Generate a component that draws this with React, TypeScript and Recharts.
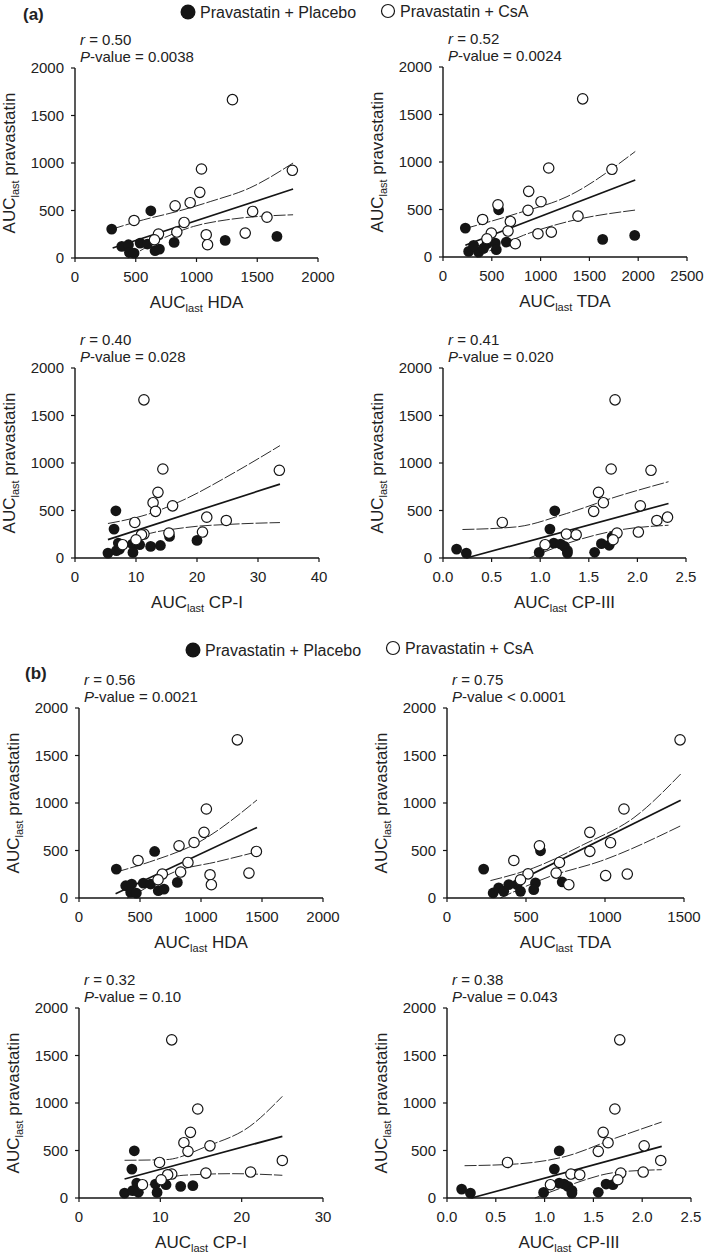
import React from "react";
import { ScatterChart, Scatter, XAxis, YAxis } from "recharts";

const FONT = '"Liberation Sans", Arial, Helvetica, sans-serif';

// ---------- (a) panel 1: AUClast HDA
const a1PlaceboX = [302, 624, 385, 440, 448, 486, 536, 596, 659, 695, 816, 1236, 1662];
const a1PlaceboY = [304, 497, 122, 140, 59, 52, 157, 147, 77, 94, 164, 185, 227];
const a1CsaX = [1296, 1041, 1789, 1027, 948, 824, 1462, 1580, 486, 898, 838, 1401, 687, 1080, 654, 1091];
const a1CsaY = [1667, 937, 923, 691, 582, 549, 490, 430, 395, 374, 273, 262, 252, 245, 192, 140];
const a1FitX = [310, 1795];
const a1FitY = [105, 726];
const a1UpX = [305, 563, 838, 1113, 1438, 1795];
const a1UpY = [304, 402, 489, 594, 737, 1000];
const a1LoX = [435, 495, 700, 975, 1250, 1795];
const a1LoY = [0, 45, 192, 332, 402, 455];

// ---------- (a) panel 2: AUClast TDA
const a2PlaceboX = [229, 570, 1636, 1964, 649, 263, 365, 314, 451, 536, 546, 417];
const a2PlaceboY = [304, 497, 185, 227, 157, 59, 52, 122, 140, 147, 77, 94];
const a2CsaX = [1431, 1083, 1731, 878, 1004, 563, 871, 1383, 406, 690, 666, 1110, 495, 973, 450, 741];
const a2CsaY = [1665, 937, 923, 691, 582, 549, 491, 430, 395, 374, 273, 262, 252, 245, 192, 140];
const a2FitX = [229, 1970];
const a2FitY = [123, 811];
const a2UpX = [229, 758, 1270, 1970];
const a2UpY = [300, 458, 635, 1111];
const a2LoX = [348, 417, 826, 1270, 1970];
const a2LoY = [0, 35, 229, 370, 494];

// ---------- (a) panel 3: AUClast CP-I
const a3PlaceboX = [6.7, 6.4, 7.1, 15.5, 20.0, 9.4, 10.6, 12.4, 14.0, 9.5, 5.4, 6.8, 7.3];
const a3PlaceboY = [497, 304, 157, 227, 185, 147, 140, 122, 132, 59, 52, 77, 94];
const a3CsaX = [11.3, 14.4, 33.5, 13.6, 12.8, 16.0, 13.2, 21.6, 24.8, 9.8, 20.9, 15.4, 11.3, 10.9, 10.0, 7.8];
const a3CsaY = [1665, 937, 923, 691, 582, 549, 491, 430, 395, 374, 273, 262, 252, 245, 192, 140];
const a3FitX = [5.4, 33.6];
const a3FitY = [194, 778];
const a3UpX = [5.4, 12.3, 17.7, 25.9, 33.6];
const a3UpY = [363, 468, 609, 891, 1183];
const a3LoX = [5.4, 10.6, 17.7, 25.9, 33.6];
const a3LoY = [25, 222, 317, 356, 373];

// ---------- (a) panel 4: AUClast CP-III
const a4PlaceboX = [1.15, 1.10, 0.14, 0.24, 0.99, 1.14, 1.21, 1.25, 1.28, 1.28, 1.56, 1.63, 1.71, 1.74];
const a4PlaceboY = [497, 304, 94, 52, 59, 157, 147, 122, 77, 52, 60, 151, 134, 222];
const a4CsaX = [1.77, 1.73, 2.14, 1.60, 1.65, 2.03, 1.55, 2.31, 2.20, 0.61, 2.01, 1.79, 1.27, 1.37, 1.75, 1.05];
const a4CsaY = [1665, 937, 923, 691, 582, 549, 491, 430, 395, 374, 273, 262, 252, 245, 192, 140];
const a4FitX = [0.24, 2.32];
const a4FitY = [0, 574];
const a4UpX = [0.2, 0.75, 1.27, 1.78, 2.32];
const a4UpY = [300, 327, 468, 644, 803];
const a4LoX = [0.89, 1.27, 1.78, 2.32];
const a4LoY = [0, 151, 289, 345];

// ---------- (b) panel 1: AUClast HDA
const b1PlaceboX = [306, 620, 383, 432, 424, 470, 527, 587, 650, 697, 806];
const b1PlaceboY = [304, 490, 129, 147, 59, 52, 157, 147, 77, 94, 164];
const b1CsaX = [1298, 1044, 1025, 943, 820, 1454, 484, 893, 833, 1393, 683, 1074, 648, 1085];
const b1CsaY = [1665, 937, 691, 584, 549, 490, 395, 374, 273, 262, 252, 245, 192, 140];
const b1FitX = [300, 1459];
const b1FitY = [45, 743];
const b1UpX = [310, 579, 989, 1459];
const b1UpY = [275, 380, 592, 1032];
const b1LoX = [395, 451, 792, 1126, 1459];
const b1LoY = [0, 35, 280, 380, 486];

// ---------- (b) panel 2: AUClast TDA
const b2PlaceboX = [232, 592, 729, 560, 444, 292, 327, 359, 391, 465, 549];
const b2PlaceboY = [304, 497, 169, 159, 141, 53, 106, 70, 141, 70, 88];
const b2CsaX = [1475, 1120, 904, 1035, 585, 904, 423, 712, 513, 691, 1141, 1004, 465, 771];
const b2CsaY = [1665, 937, 691, 582, 549, 491, 395, 374, 254, 262, 252, 236, 192, 140];
const b2FitX = [275, 1479];
const b2FitY = [35, 1030];
const b2UpX = [275, 549, 866, 1183, 1479];
const b2UpY = [183, 317, 564, 846, 1305];
const b2LoX = [338, 655, 972, 1479];
const b2LoY = [0, 229, 388, 760];

// ---------- (b) panel 3: AUClast CP-I
const b3PlaceboX = [6.8, 6.5, 7.1, 9.4, 10.7, 12.5, 14.0, 9.6, 5.6, 6.6, 7.3];
const b3PlaceboY = [497, 304, 157, 147, 140, 122, 130, 59, 52, 77, 60];
const b3CsaX = [11.4, 14.6, 13.7, 12.9, 16.1, 13.4, 25.0, 9.9, 21.1, 15.6, 11.4, 10.9, 10.1, 7.8];
const b3CsaY = [1665, 937, 691, 582, 549, 491, 395, 374, 273, 262, 252, 245, 192, 140];
const b3FitX = [5.6, 25];
const b3FitY = [200, 649];
const b3UpX = [5.6, 10.7, 15.7, 21, 25];
const b3UpY = [397, 404, 544, 754, 1070];
const b3LoX = [5.6, 8.7, 12.8, 18.9, 25];
const b3LoY = [5, 140, 239, 256, 239];

// ---------- (b) panel 4: AUClast CP-III
const b4PlaceboX = [1.15, 1.10, 0.15, 0.24, 0.99, 1.15, 1.20, 1.24, 1.28, 1.28, 1.55, 1.63, 1.70];
const b4PlaceboY = [497, 304, 94, 52, 59, 157, 147, 122, 77, 52, 60, 147, 140];
const b4CsaX = [1.77, 1.72, 1.60, 1.65, 2.02, 1.55, 2.19, 0.62, 2.01, 1.78, 1.27, 1.36, 1.75, 1.06];
const b4CsaY = [1665, 937, 691, 582, 549, 491, 395, 374, 273, 262, 252, 245, 192, 140];
const b4FitX = [0.25, 2.2];
const b4FitY = [0, 544];
const b4UpX = [0.18, 0.71, 1.22, 1.73, 2.2];
const b4UpY = [340, 358, 439, 632, 800];
const b4LoX = [0.9, 1.22, 1.73, 2.2];
const b4LoY = [0, 123, 270, 298];

// ---------- labels
const xNames = ["HDA", "TDA", "CP-I", "CP-III", "HDA", "TDA", "CP-I", "CP-III"];
const rValues = ["0.50", "0.52", "0.40", "0.41", "0.56", "0.75", "0.32", "0.38"];
const pValues = ["= 0.0038", "= 0.0024", "= 0.028", "= 0.020", "= 0.0021", "< 0.0001", "= 0.10", "= 0.043"];
const yTicks = [0, 500, 1000, 1500, 2000];
const hdaTicks = [0, 500, 1000, 1500, 2000];
const tdaTicksA = [0, 500, 1000, 1500, 2000, 2500];
const tdaTicksB = [0, 500, 1000, 1500];
const cp1TicksA = [0, 10, 20, 30, 40];
const cp1TicksB = [0, 10, 20, 30];
const cp3Ticks = [0, 0.5, 1.0, 1.5, 2.0, 2.5];

type Pt = { x: number; y: number };
const zip = (xs: number[], ys: number[]): Pt[] => xs.map((x, i) => ({ x, y: ys[i] }));

interface PanelCfg {
  left: number;
  top: number;
  w: number;
  xTicks: number[];
  dec: number;
  placebo: Pt[];
  csa: Pt[];
  fit: Pt[];
  upper: Pt[];
  lower: Pt[];
}

const panels: PanelCfg[] = [
  { left: 75, top: 68, w: 243, xTicks: hdaTicks, dec: 0, placebo: zip(a1PlaceboX, a1PlaceboY), csa: zip(a1CsaX, a1CsaY), fit: zip(a1FitX, a1FitY), upper: zip(a1UpX, a1UpY), lower: zip(a1LoX, a1LoY) },
  { left: 443, top: 67, w: 244, xTicks: tdaTicksA, dec: 0, placebo: zip(a2PlaceboX, a2PlaceboY), csa: zip(a2CsaX, a2CsaY), fit: zip(a2FitX, a2FitY), upper: zip(a2UpX, a2UpY), lower: zip(a2LoX, a2LoY) },
  { left: 75, top: 368, w: 244, xTicks: cp1TicksA, dec: 0, placebo: zip(a3PlaceboX, a3PlaceboY), csa: zip(a3CsaX, a3CsaY), fit: zip(a3FitX, a3FitY), upper: zip(a3UpX, a3UpY), lower: zip(a3LoX, a3LoY) },
  { left: 443, top: 368, w: 243, xTicks: cp3Ticks, dec: 1, placebo: zip(a4PlaceboX, a4PlaceboY), csa: zip(a4CsaX, a4CsaY), fit: zip(a4FitX, a4FitY), upper: zip(a4UpX, a4UpY), lower: zip(a4LoX, a4LoY) },
  { left: 79, top: 708, w: 244, xTicks: hdaTicks, dec: 0, placebo: zip(b1PlaceboX, b1PlaceboY), csa: zip(b1CsaX, b1CsaY), fit: zip(b1FitX, b1FitY), upper: zip(b1UpX, b1UpY), lower: zip(b1LoX, b1LoY) },
  { left: 447, top: 708, w: 237, xTicks: tdaTicksB, dec: 0, placebo: zip(b2PlaceboX, b2PlaceboY), csa: zip(b2CsaX, b2CsaY), fit: zip(b2FitX, b2FitY), upper: zip(b2UpX, b2UpY), lower: zip(b2LoX, b2LoY) },
  { left: 79, top: 1008, w: 244, xTicks: cp1TicksB, dec: 0, placebo: zip(b3PlaceboX, b3PlaceboY), csa: zip(b3CsaX, b3CsaY), fit: zip(b3FitX, b3FitY), upper: zip(b3UpX, b3UpY), lower: zip(b3LoX, b3LoY) },
  { left: 447, top: 1008, w: 244, xTicks: cp3Ticks, dec: 1, placebo: zip(b4PlaceboX, b4PlaceboY), csa: zip(b4CsaX, b4CsaY), fit: zip(b4FitX, b4FitY), upper: zip(b4UpX, b4UpY), lower: zip(b4LoX, b4LoY) },
];

const PLOT_H = 190;
const M_TOP = 50;
const Y_W = 70;
const X_H = 58;
const M_RIGHT = 22;
const INK = "#151515";

const FilledDot = (p: any) => <circle cx={p.cx} cy={p.cy} r={5.4} fill={INK} />;
const OpenDot = (p: any) => <circle cx={p.cx} cy={p.cy} r={5.2} fill="#fff" stroke={INK} strokeWidth={1.2} />;
const NoShape = () => <g />;

function Panel({ c }: { c: PanelCfg }) {
  const xMax = c.xTicks[c.xTicks.length - 1];
  return (
    <div style={{ position: "absolute", left: c.left - Y_W, top: c.top - M_TOP }}>
      <ScatterChart
        width={Y_W + c.w + M_RIGHT}
        height={M_TOP + PLOT_H + X_H}
        margin={{ top: M_TOP, right: M_RIGHT, bottom: 0, left: 0 }}
      >
        <XAxis
          type="number"
          dataKey="x"
          domain={[0, xMax]}
          ticks={c.xTicks}
          interval={0}
          height={X_H}
          tickSize={4}
          tickMargin={9}
          tickFormatter={(v: number) => v.toFixed(c.dec)}
          tick={{ fill: "#222", fontSize: 15 }}
          axisLine={{ stroke: INK, strokeWidth: 1.4 }}
          tickLine={{ stroke: INK, strokeWidth: 1.2 }}
        />
        <YAxis
          type="number"
          dataKey="y"
          domain={[0, 2000]}
          ticks={yTicks}
          interval={0}
          width={Y_W}
          tickSize={4}
          tickMargin={7}
          tick={{ fill: "#222", fontSize: 15 }}
          axisLine={{ stroke: INK, strokeWidth: 1.4 }}
          tickLine={{ stroke: INK, strokeWidth: 1.2 }}
        />
        <Scatter data={c.upper} shape={NoShape} line={{ stroke: INK, strokeWidth: 0.9, strokeDasharray: "12 2" }} lineJointType="monotoneX" isAnimationActive={false} />
        <Scatter data={c.lower} shape={NoShape} line={{ stroke: INK, strokeWidth: 0.9, strokeDasharray: "12 2" }} lineJointType="monotoneX" isAnimationActive={false} />
        <Scatter data={c.fit} shape={NoShape} line={{ stroke: INK, strokeWidth: 1.7 }} lineJointType="linear" isAnimationActive={false} />
        <Scatter data={c.placebo} shape={FilledDot} isAnimationActive={false} />
        <Scatter data={c.csa} shape={OpenDot} isAnimationActive={false} />
      </ScatterChart>
    </div>
  );
}

function Texts() {
  return (
    <svg
      width={709}
      height={1259}
      style={{ position: "absolute", left: 0, top: 0, pointerEvents: "none" }}
      fontFamily={FONT}
      fill="#222"
    >
      <text x={23} y={20} fontSize={17} fontWeight="bold">(a)</text>
      <text x={25} y={679} fontSize={17} fontWeight="bold">(b)</text>

      <circle cx={188} cy={12} r={7.5} fill={INK} />
      <text x={200} y={18} fontSize={16}>Pravastatin + Placebo</text>
      <circle cx={388} cy={11} r={6.5} fill="#fff" stroke={INK} strokeWidth={1.2} />
      <text x={400} y={17} fontSize={16}>Pravastatin + CsA</text>

      <circle cx={193} cy={650} r={7.5} fill={INK} />
      <text x={205} y={656} fontSize={16}>Pravastatin + Placebo</text>
      <circle cx={393} cy={648} r={6.5} fill="#fff" stroke={INK} strokeWidth={1.2} />
      <text x={405} y={654} fontSize={16}>Pravastatin + CsA</text>

      {panels.map((c, i) => (
        <g key={i}>
          <text x={c.left + 5} y={c.top - 23} fontSize={15}>
            <tspan fontStyle="italic">r</tspan>
            {` = ${rValues[i]}`}
          </text>
          <text x={c.left + 5} y={c.top - 6} fontSize={15}>
            <tspan fontStyle="italic">P</tspan>
            {`-value ${pValues[i]}`}
          </text>
          <text
            transform={`translate(${c.left - 60},${c.top + PLOT_H / 2}) rotate(-90)`}
            textAnchor="middle"
            fontSize={17}
          >
            AUC
            <tspan fontSize={11} dy={4}>last</tspan>
            <tspan dy={-4}> pravastatin</tspan>
          </text>
          <text x={c.left + c.w / 2} y={c.top + PLOT_H + 50} textAnchor="middle" fontSize={17}>
            AUC
            <tspan fontSize={11} dy={4}>last</tspan>
            <tspan dy={-4}>{` ${xNames[i]}`}</tspan>
          </text>
        </g>
      ))}
    </svg>
  );
}

export default function App() {
  return (
    <div
      style={{
        position: "absolute",
        left: 0,
        top: 0,
        width: 709,
        height: 1259,
        background: "#fff",
        fontFamily: FONT,
        overflow: "hidden",
      }}
    >
      {panels.map((c, i) => (
        <Panel key={i} c={c} />
      ))}
      <Texts />
    </div>
  );
}
